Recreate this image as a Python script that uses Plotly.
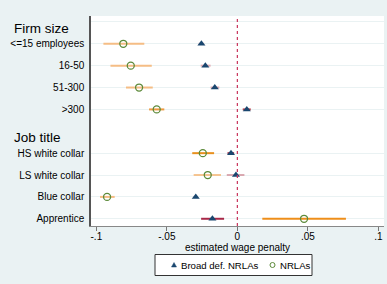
import plotly.graph_objects as go

# ---- data ----
row_labels = ["<=15 employees", "16-50", "51-300", ">300",
              "HS white collar", "LS white collar", "Blue collar", "Apprentice"]
row_pos = [1, 2, 3, 4, 6, 7, 8, 9]
headers = ["Firm size", "Job title"]
header_pos = [0, 5]

nrla_est = [-0.0809, -0.0756, -0.0697, -0.0572, -0.0245, -0.0210, -0.0924, 0.0473]
nrla_lo = [-0.0950, -0.0900, -0.0790, -0.0626, -0.0320, -0.0310, -0.0974, 0.0177]
nrla_hi = [-0.0660, -0.0607, -0.0600, -0.0518, -0.0165, -0.0116, -0.0870, 0.0770]

broad_est = [-0.0255, -0.0227, -0.0160, 0.0067, -0.0045, -0.0010, -0.0295, -0.0177]
broad_lo = [-0.0275, -0.0260, -0.0190, 0.0038, -0.0070, -0.0075, -0.0310, -0.0257]
broad_hi = [-0.0235, -0.0190, -0.0128, 0.0095, -0.0023, 0.0050, -0.0280, -0.0094]

series_names = ["Broad def. NRLAs", "NRLAs"]
xticks = [-0.1, -0.05, 0, 0.05, 0.1]
xticklabels = ["-.1", "-.05", "0", ".05", ".1"]

# ---- styles ----
nrla_ci_col = ["#F5BD85", "#F5BD85", "#F5BD85", "#EE9A40", "#E8901E", "#F5C490", "#F5BD85", "#EE8E1A"]
broad_ci_col = ["#E4B8BE", "#E0AAB2", "#DDA8B0", "#B8404E", "#A83046", "#D9A8B0", "#E4B8BE", "#A82848"]
NAVY = "#1A476F"
GREEN = "#5C8A3A"

fig = go.Figure()

def ci_segments(lo, hi, pos, cols):
    groups = {}
    for l, h, p, c in zip(lo, hi, pos, cols):
        groups.setdefault(c, ([], []))
        groups[c][0].extend([l, h, None])
        groups[c][1].extend([p, p, None])
    for c, (xs, ys) in groups.items():
        fig.add_trace(go.Scatter(x=xs, y=ys, mode="lines",
                                 line=dict(color=c, width=2),
                                 showlegend=False, hoverinfo="skip"))

ci_segments(nrla_lo, nrla_hi, row_pos, nrla_ci_col)
ci_segments(broad_lo, broad_hi, row_pos, broad_ci_col)

fig.add_trace(go.Scatter(x=broad_est, y=row_pos, mode="markers", name=series_names[0],
                         marker=dict(symbol="triangle-up", size=7, color=NAVY)))
fig.add_trace(go.Scatter(x=nrla_est, y=row_pos, mode="markers", name=series_names[1],
                         marker=dict(symbol="circle-open", size=7, color=GREEN,
                                     line=dict(width=1.3, color=GREEN))))

fig.add_vline(x=0, line=dict(color="#C8325A", width=1.2, dash="dot"))

for h, p in zip(headers, header_pos):
    fig.add_annotation(x=0, xref="paper", xshift=-79, y=p + 0.3, yref="y",
                       text=h, showarrow=False, xanchor="left", yanchor="middle",
                       font=dict(size=13.5, color="#000"))

# ---- legend (drawn manually to match the compact Stata-style box) ----
PLOT_L, PLOT_W, PLOT_B, PLOT_H = 91, 293, 226, 210
def px_x(px):
    return (px - PLOT_L) / PLOT_W
def px_y(py):
    return -(py - PLOT_B) / PLOT_H

fig.add_shape(type="rect", xref="paper", yref="paper",
              x0=px_x(155), x1=px_x(312), y0=px_y(275.5), y1=px_y(254.5),
              line=dict(color="#333", width=1), fillcolor="#FFFFFF", layer="above")
leg_y = px_y(265)
fig.add_shape(type="path", xref="paper", yref="paper",
              xsizemode="pixel", ysizemode="pixel",
              xanchor=px_x(174), yanchor=leg_y,
              path="M -2.5 -2 L 2.5 -2 L 0 2.5 Z",
              line=dict(color=NAVY, width=0.5), fillcolor=NAVY, layer="above")
fig.add_shape(type="circle", xref="paper", yref="paper",
              xsizemode="pixel", ysizemode="pixel",
              xanchor=px_x(272.5), yanchor=leg_y,
              x0=-2.5, x1=2.5, y0=-2.5, y1=2.5,
              line=dict(color=GREEN, width=1), fillcolor="rgba(0,0,0,0)", layer="above")
fig.add_annotation(x=px_x(179), y=leg_y, xref="paper", yref="paper", text=series_names[0],
                   showarrow=False, xanchor="left", yanchor="middle",
                   font=dict(size=9.6, color="#000"))
fig.add_annotation(x=px_x(278), y=leg_y, xref="paper", yref="paper", text=series_names[1],
                   showarrow=False, xanchor="left", yanchor="middle",
                   font=dict(size=9.6, color="#000"))

grid_rows = [0] + row_pos
fig.update_layout(
    width=387, height=284,
    paper_bgcolor="#EAF2F3", plot_bgcolor="#FFFFFF",
    margin=dict(l=91, r=3, t=16, b=58),
    font=dict(family="Liberation Sans, Arial, sans-serif", size=10, color="#000"),
    showlegend=False,
    xaxis=dict(range=[-0.1038, 0.104], tickvals=xticks, ticktext=xticklabels,
               ticks="outside", ticklen=4, tickcolor="#777", showgrid=False,
               zeroline=False, showline=True, linecolor="#888", linewidth=1,
               automargin=False, ticklabelstandoff=-3,
               title=dict(text="estimated wage penalty", standoff=0, font=dict(size=10))),
    yaxis=dict(range=[9.33, -0.27], tickvals=grid_rows,
               ticktext=[""] + row_labels, ticks="", showgrid=True,
               gridcolor="#EAF2F3", gridwidth=1, zeroline=False, automargin=False,
               showline=True, linecolor="#555", linewidth=1.5, ticklabelstandoff=3),
)

fig.write_html("out.html", config={"displayModeBar": False},
               post_script="document.body.style.margin='0';")
